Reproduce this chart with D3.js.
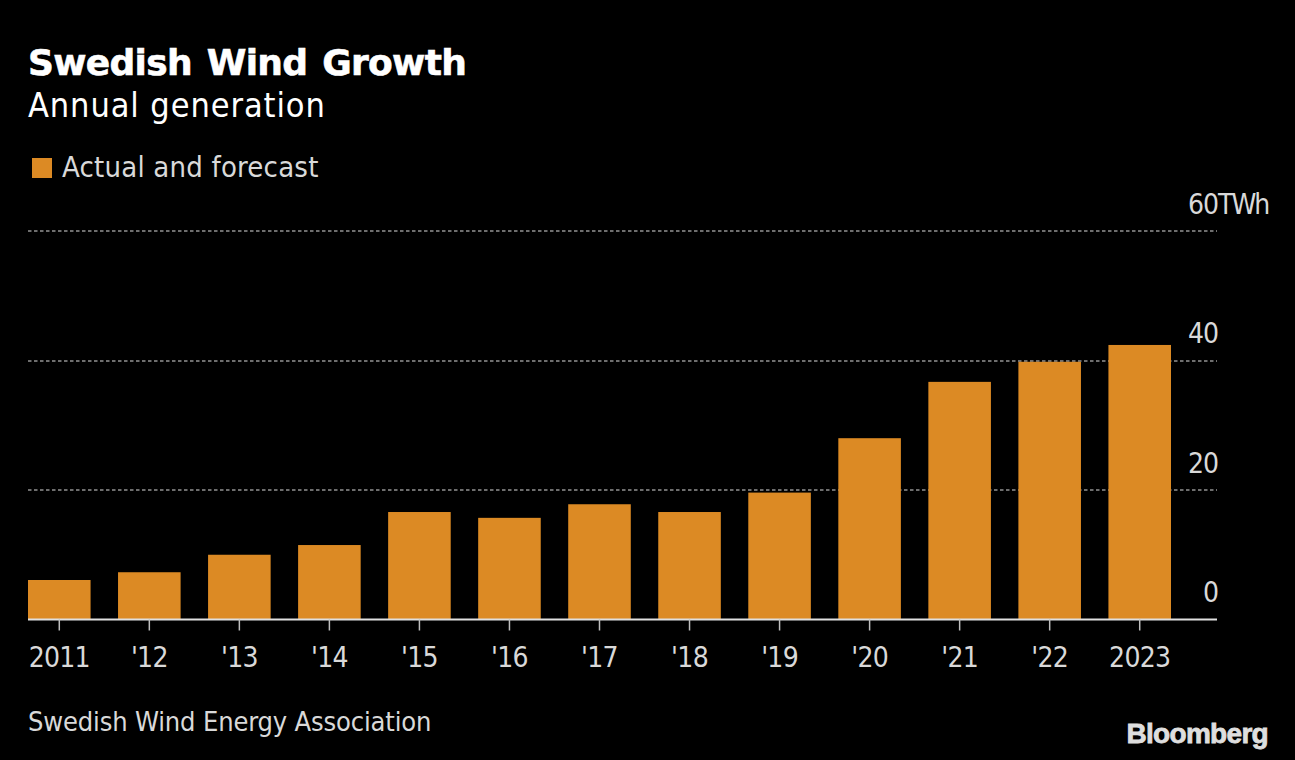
<!DOCTYPE html>
<html>
<head>
<meta charset="utf-8">
<script src="https://cdn.jsdelivr.net/npm/d3@7"></script>
<style>
html, body { margin: 0; padding: 0; background: #000; }
svg { display: block; }
text { font-family: "DejaVu Sans Condensed", "DejaVu Sans", sans-serif; font-stretch: condensed; }
.title { font-family: "DejaVu Sans", sans-serif; font-stretch: normal; }
.logo { font-family: "Liberation Sans", sans-serif; font-stretch: normal; }
</style>
</head>
<body>
<div id="container"></div>
<script>
var years = ["2011","'12","'13","'14","'15","'16","'17","'18","'19","'20","'21","'22","2023"];
var generation = [6.1, 7.3, 10.0, 11.5, 16.6, 15.7, 17.8, 16.6, 19.6, 28.0, 36.7, 39.8, 42.4];
var y_ticks = [0, 20, 40, 60];

var ORANGE = "#dc8a24";
var LABEL = "#d9d9d9";

var svg = d3.select("#container").append("svg")
    .attr("width", 1295)
    .attr("height", 760);

svg.append("rect").attr("width", 1295).attr("height", 760).attr("fill", "#000");

var x = d3.scaleBand().domain(years).range([28, 1171]).paddingInner(0.305);
var y = d3.scaleLinear().domain([0, 60]).range([619.5, 231]);

// heading
svg.append("text").attr("class", "title").attr("x", 28).attr("y", 75)
    .attr("font-size", 36).attr("font-weight", "bold").attr("fill", "#fff")
    .attr("stroke", "#fff").attr("stroke-width", 0.6)
    .attr("letter-spacing", -0.7).attr("word-spacing", 3)
    .text("Swedish Wind Growth");
svg.append("text").attr("x", 28).attr("y", 117)
    .attr("font-size", 34).attr("fill", "#fff")
    .attr("letter-spacing", 0.9)
    .text("Annual generation");

// legend
svg.append("rect").attr("x", 32).attr("y", 158).attr("width", 20).attr("height", 20).attr("fill", ORANGE);
svg.append("text").attr("x", 62).attr("y", 177)
    .attr("font-size", 29).attr("fill", LABEL)
    .attr("letter-spacing", 0.2)
    .text("Actual and forecast");

// gridlines
svg.append("g").selectAll("line")
    .data(y_ticks.filter(function(d){ return d > 0; }))
    .enter().append("line")
    .attr("x1", 28).attr("x2", 1217)
    .attr("y1", function(d){ return Math.round(y(d)); })
    .attr("y2", function(d){ return Math.round(y(d)); })
    .attr("stroke", "#6e6e6e")
    .attr("stroke-width", 2)
    .attr("stroke-dasharray", "3.5 2.5");

// bars
svg.append("g").selectAll("rect")
    .data(years)
    .enter().append("rect")
    .attr("x", function(d){ return x(d); })
    .attr("width", x.bandwidth())
    .attr("y", function(d, i){ return y(generation[i]); })
    .attr("height", function(d, i){ return y(0) - y(generation[i]); })
    .attr("fill", ORANGE);

// x axis
var x_axis = svg.append("g")
    .attr("transform", "translate(0," + y(0) + ")")
    .call(d3.axisBottom(x).tickSize(11).tickPadding(16.5));
x_axis.select(".domain").attr("d", "M28,0H1217").attr("stroke", "#e0e0e0").attr("stroke-width", 2);
x_axis.selectAll(".tick line").attr("stroke", "#bdbdbd").attr("stroke-width", 1.5);
x_axis.selectAll("text").attr("font-size", 28).attr("fill", LABEL).attr("letter-spacing", -0.7);

// y axis, labels sit above their gridlines
var y_axis = svg.append("g")
    .attr("transform", "translate(1218,0)")
    .call(d3.axisLeft(y).tickValues(y_ticks).tickSize(0).tickPadding(0));
y_axis.select(".domain").remove();
y_axis.selectAll("text")
    .attr("font-size", 28)
    .attr("fill", LABEL)
    .attr("letter-spacing", -1)
    .attr("dy", -18);
y_axis.selectAll(".tick")
    .filter(function(d){ return d == 60; })
    .select("text")
    .attr("text-anchor", "start").attr("x", -30)
    .append("tspan").attr("letter-spacing", -2).text("TWh");

// source and logo
svg.append("text").attr("x", 28).attr("y", 731)
    .attr("font-size", 27).attr("fill", LABEL)
    .attr("letter-spacing", -0.15)
    .text("Swedish Wind Energy Association");
svg.append("text").attr("class", "logo").attr("x", 1268).attr("y", 743)
    .attr("text-anchor", "end")
    .attr("font-size", 28).attr("font-weight", "bold").attr("fill", "#dedede")
    .attr("stroke", "#dedede").attr("stroke-width", 0.8)
    .attr("letter-spacing", -0.7)
    .text("Bloomberg");
</script>
</body>
</html>
